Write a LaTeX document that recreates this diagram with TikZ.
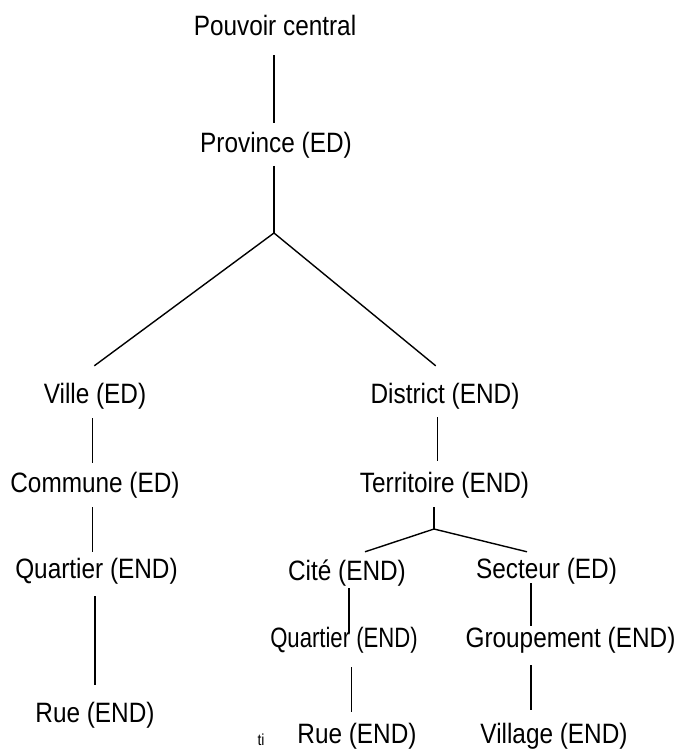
\documentclass[tikz,border=0pt]{standalone}
\usepackage{fontspec}
\setmainfont{Liberation Sans}[FakeStretch=0.87]
\newfontfamily\narrowf{Liberation Sans}[FakeStretch=0.79]
\begin{document}
\begin{tikzpicture}[x=1pt,y=-1pt,
  lbl/.style={font=\fontsize{28}{30}\selectfont, inner sep=0pt, anchor=base, text height=20pt, text depth=6pt},
  edge/.style={line width=1.4pt, black}]
\useasboundingbox (0,0) rectangle (679,749);
% nodes
\node[lbl] (pc)    at (275,36)    {Pouvoir central};
\node[lbl] (prov)  at (276,153)   {Province (ED)};
\node[lbl] (ville) at (95,403)    {Ville (ED)};
\node[lbl] (comm)  at (95,492)    {Commune (ED)};
\node[lbl] (quar)  at (96.5,578)  {Quartier (END)};
\node[lbl] (rue)   at (95,722)    {Rue (END)};
\node[lbl] (dist)  at (445,403)   {District (END)};
\node[lbl] (terr)  at (444.5,492) {Territoire (END)};
\node[lbl] (cite)  at (347,580)   {Cité (END)};
\node[lbl] (sect)  at (546.5,578) {Secteur (ED)};
\node[lbl, font=\narrowf\fontsize{28}{30}\selectfont] (quartwo) at (344,647) {Quartier (END)};
\node[lbl] (grp)   at (570.5,647) {Groupement (END)};
\node[lbl] (ruetwo) at (357,743)  {Rue (END)};
\node[lbl] (vill)  at (554,743)   {Village (END)};
\node[font=\fontsize{16}{17}\selectfont, inner sep=0pt, anchor=base] (ti) at (261,745) {ti};
% junctions
\coordinate (j1) at (274,233);
\coordinate (j2) at (434,529);
% connectors
\draw[edge, shorten <=13pt, shorten >=10pt] (pc.south -| j1) -- (prov.north -| j1);
\draw[edge, shorten <=6.7pt] (prov.south -| j1) -- (j1);
\draw[edge] (j1) -- ([shift={(-0.7,-17)}]ville.north);
\draw[edge] (j1) -- ([shift={(-9.3,-17)}]dist.north);
\draw[edge, shorten <=9pt, shorten >=9pt] ([xshift=-2.3pt]ville.south) -- ([xshift=-2.3pt]comm.north);
\draw[edge, shorten <=9pt, shorten >=6pt] ([xshift=-2.3pt]comm.south) -- ([xshift=-3.8pt]quar.north);
\draw[edge, shorten <=12pt, shorten >=17pt] ([xshift=-1.5pt]quar.south) -- (rue.north);
\draw[edge, shorten <=8pt, shorten >=11pt] ([xshift=-7.3pt]dist.south) -- ([xshift=-6.8pt]terr.north);
\draw[edge, shorten <=9pt] (terr.south -| j2) -- (j2);
\draw[edge] (j2) -- ([shift={(18,-8)}]cite.north);
\draw[edge] (j2) -- ([shift={(-19.5,-6)}]sect.north);
\draw[edge, shorten <=2pt, shorten >=-6pt] ([xshift=2pt]cite.south) -- ([xshift=5pt]quartwo.north);
\draw[edge, shorten <=-1pt, shorten >=1pt] ([xshift=-15.5pt]sect.south) -- ([xshift=-39.5pt]grp.north);
\draw[edge, shorten <=14pt, shorten >=11pt] ([xshift=7.7pt]quartwo.south) -- ([xshift=-5.3pt]ruetwo.north);
\draw[edge, shorten <=12pt, shorten >=13pt] ([xshift=-39.5pt]grp.south) -- ([xshift=-23pt]vill.north);
\end{tikzpicture}
\end{document}
